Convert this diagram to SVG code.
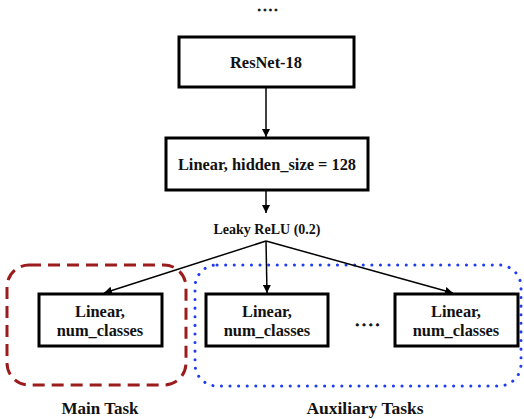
<svg xmlns="http://www.w3.org/2000/svg" width="524" height="419" viewBox="0 0 524 419">
<style>
text{font-family:"Liberation Serif","Times New Roman",serif;font-weight:bold;fill:#111;text-anchor:middle}
.box{fill:#fff;stroke:#000;stroke-width:3}
.t{font-size:16.4px}
.d{stroke:#111;stroke-width:0.9}
.c{stroke:#000;stroke-width:1.5;fill:none;marker-end:url(#ah)}
</style>
<defs>
<marker id="ah" viewBox="0 0 10 10" refX="10" refY="5" markerWidth="8" markerHeight="8" markerUnits="userSpaceOnUse" orient="auto">
<path d="M0,0 L10,5 L0,10 z" fill="#000"/>
</marker>
</defs>
<text class="d" x="269" y="10.5" style="font-size:11.5px;letter-spacing:2.7px">....</text>
<g id="groups">
<rect x="7" y="265" width="179" height="120" rx="22" fill="none" stroke="#9b1c1c" stroke-width="3" stroke-dasharray="12,7"/>
<rect x="195" y="265" width="326" height="121" rx="22" fill="none" stroke="#1f3cf0" stroke-width="3" stroke-dasharray="0.1,8.5" stroke-linecap="round"/>
</g>
<g id="connectors">
<line class="c" x1="266" y1="87" x2="266" y2="137"/>
<line class="c" x1="266" y1="190" x2="266" y2="213"/>
<line class="c" x1="266" y1="241" x2="104" y2="293"/>
<line class="c" x1="266" y1="241" x2="267" y2="293"/>
<line class="c" x1="266" y1="241" x2="453" y2="293"/>
</g>
<g id="resnet">
<rect class="box" x="179" y="37" width="175" height="50"/>
<text class="t" x="266" y="68">ResNet-18</text>
</g>
<g id="hidden">
<rect class="box" x="166" y="138" width="202" height="52"/>
<text class="t" x="267" y="170">Linear, hidden_size = 128</text>
</g>
<g id="leaky">
<text x="267" y="234" style="font-size:14px">Leaky ReLU (0.2)</text>
</g>
<g id="main">
<rect class="box" x="39" y="294" width="123" height="52"/>
<text class="t" x="100" y="317">Linear,</text>
<text class="t" x="100" y="336">num_classes</text>
</g>
<g id="aux1">
<rect class="box" x="206" y="294" width="122" height="52"/>
<text class="t" x="267" y="317">Linear,</text>
<text class="t" x="267" y="336">num_classes</text>
</g>
<text class="d" x="369" y="326" style="font-size:14px;letter-spacing:3.2px">....</text>
<g id="aux2">
<rect class="box" x="395" y="294" width="123" height="52"/>
<text class="t" x="456" y="317">Linear,</text>
<text class="t" x="456" y="336">num_classes</text>
</g>
<text x="100" y="414" style="font-size:17px">Main Task</text>
<text x="365" y="414" style="font-size:17.5px">Auxiliary Tasks</text>
</svg>
